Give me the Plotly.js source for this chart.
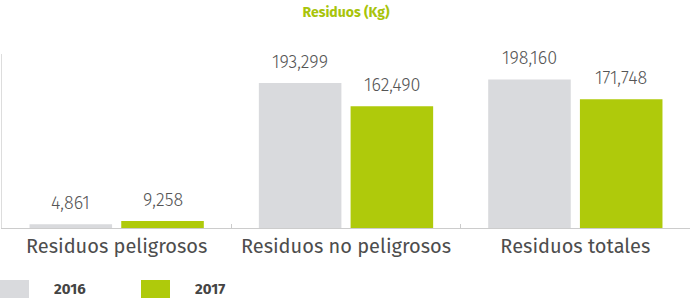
<!DOCTYPE html>
<html>
<head>
<meta charset="utf-8">
<script src="https://cdn.plot.ly/plotly-3.0.1.min.js"></script>
<style>html,body{margin:0;padding:0;background:#fff;}#chart{width:692px;height:303px;}</style>
</head>
<body>
<div id="chart"></div>
<script>
const categories = ["Residuos peligrosos", "Residuos no peligrosos", "Residuos totales"];
const seriesNames = ["2016", "2017"];
const values2016 = [4861, 193299, 198160];
const values2017 = [9258, 162490, 171748];
const colors = ["#d9dadd", "#afca0b"];

const W = 692, H = 303;
const M = {l: 2, r: 2, t: 54, b: 75};
const pw = W - M.l - M.r, ph = H - M.t - M.b;
const px = x => (x - M.l) / pw;
const py = y => (H - M.b - y) / ph;

const fontFam = '"Fira Sans", "Open Sans", "Noto Sans", sans-serif';
const bargap = 0.2, bargroupgap = 0.1;
const catW = pw / categories.length;
const slot = catW * (1 - bargap) / 2;

function barTrace(name, vals, color) {
  return {
    type: 'bar', name: name, x: categories, y: vals,
    marker: {color: color},
    hoverinfo: 'none', showlegend: false
  };
}

const data = [
  barTrace(seriesNames[0], values2016, colors[0]),
  barTrace(seriesNames[1], values2017, colors[1])
];

const shapes = [], annotations = [];
[values2016, values2017].forEach((vals, si) => {
  vals.forEach((v, ci) => {
    annotations.push({xref: 'x', yref: 'y', x: categories[ci], y: v,
      xshift: (si === 0 ? -1 : 1) * slot / 2, yshift: 8,
      xanchor: 'center', yanchor: 'bottom', showarrow: false,
      text: v.toLocaleString('en-US'),
      font: {family: fontFam, size: 18, color: '#555555', weight: 300}});
  });
});

const legendX = [0, 141];
seriesNames.forEach((n, i) => {
  shapes.push({type: 'rect', xref: 'paper', yref: 'paper',
    x0: px(legendX[i]), x1: px(legendX[i] + 29), y0: py(298), y1: py(280),
    fillcolor: colors[i], line: {width: 0}});
  annotations.push({xref: 'paper', yref: 'paper', x: px(legendX[i] + 52), y: py(289),
    xanchor: 'left', yanchor: 'middle', showarrow: false, text: n,
    font: {family: fontFam, size: 15, color: '#444444', weight: 'bold'}});
});

const layout = {
  width: W, height: H,
  margin: M,
  paper_bgcolor: '#ffffff', plot_bgcolor: '#ffffff',
  title: {text: 'Residuos (Kg)', x: 0.5, xref: 'paper', xanchor: 'center', y: 1 - 12 / H, yanchor: 'middle',
    font: {family: fontFam, size: 14, color: '#a8c40a', weight: 'bold'}},
  barmode: 'group', bargap: bargap, bargroupgap: bargroupgap,
  xaxis: {showline: true, linecolor: '#cccccc', linewidth: 1, tickson: 'boundaries',
    ticks: 'inside', ticklen: 4, tickcolor: '#cccccc', showgrid: false, zeroline: false,
    tickfont: {family: fontFam, size: 20, color: '#4d4d4d', weight: 400}, fixedrange: true},
  yaxis: {range: [0, 232000], showline: true, linecolor: '#dddddd', linewidth: 1.5, showgrid: false,
    zeroline: false, showticklabels: false, ticks: '', fixedrange: true},
  showlegend: false,
  shapes: shapes, annotations: annotations
};

Plotly.newPlot('chart', data, layout, {displayModeBar: false, staticPlot: true});
</script>
</body>
</html>
